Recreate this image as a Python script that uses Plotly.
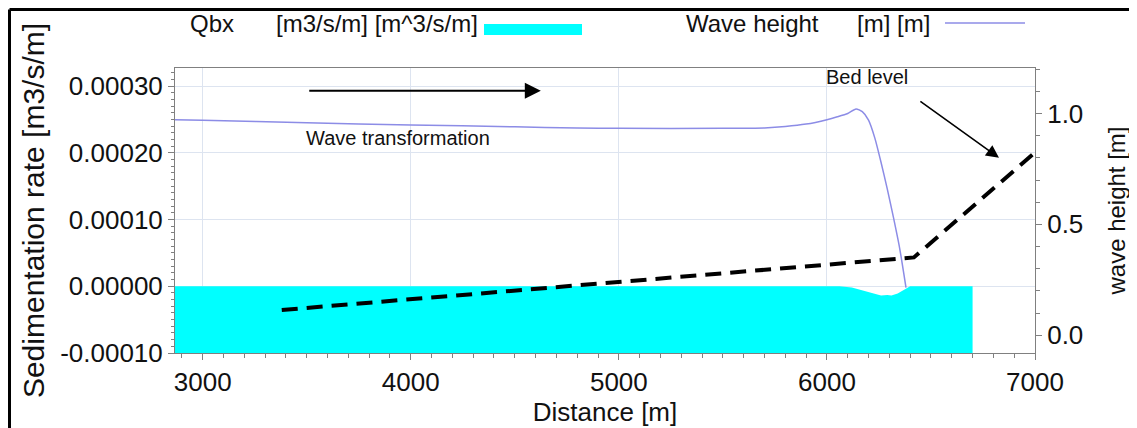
import plotly.graph_objects as go

# ---------------- data ----------------
x_range = [2867, 7000]
left_range = [-0.0001, 0.000327]
right_range = [-0.08, 1.205]

# Qbx (sedimentation rate, m3/s/m) - filled area down to the axis bottom
qbx_dist = [2867, 3000, 4000, 5000, 6000, 6060, 6120, 6170, 6220, 6260, 6290, 6310, 6340, 6370, 6400, 6500, 6600, 6700]
qbx_vals = [0, 0, 0, 0, 0, 0, -0.000002, -0.000006, -0.000011, -0.000014, -0.000013, -0.000014, -0.000011, -0.000006, 0, 0, 0, 0]
qbx_base = -0.0001

# Wave height [m]
wave_dist = [2867, 3000, 3500, 4000, 4500, 4800, 5000, 5500, 5700, 5800, 5900, 6000, 6050, 6100, 6140, 6170, 6200, 6230, 6260, 6290, 6320, 6350, 6380]
wave_vals = [0.972, 0.969, 0.958, 0.948, 0.940, 0.934, 0.933, 0.933, 0.935, 0.941, 0.952, 0.972, 0.985, 1.000, 1.020, 1.008, 0.970, 0.890, 0.780, 0.660, 0.530, 0.390, 0.215]

# Bed level (annotation sketch, right-axis units)
bed_dist = [3380, 6418, 7000]
bed_vals = [0.114, 0.351, 0.824]

# ticks
left_tickvals = [-0.0001, 0.0, 0.0001, 0.0002, 0.0003]
left_ticktext = ["-0.00010", "0.00000", "0.00010", "0.00020", "0.00030"]
right_tickvals = [0.0, 0.5, 1.0]
right_ticktext = ["0.0", "0.5", "1.0"]
x_tickvals = [3000, 4000, 5000, 6000, 7000]

FONT = "Arial, Liberation Sans, sans-serif"
GRID = "#dde4f0"
FRAME = "#808080"

# figure geometry (page has an 8px body margin)
W, H = 1129, 420
ML, MR, MT, MB = 167, 102, 60, 75
PW, PH = W - ML - MR, H - MT - MB

fig = go.Figure()

# baseline for the cyan fill
fig.add_trace(go.Scatter(x=[qbx_dist[0], qbx_dist[-1]], y=[qbx_base, qbx_base],
                         mode="lines", line=dict(width=0, color="#00ffff"),
                         showlegend=False, hoverinfo="skip"))
fig.add_trace(go.Scatter(x=qbx_dist, y=qbx_vals, mode="lines", fill="tonexty",
                         fillcolor="#00ffff", line=dict(width=0, color="#00ffff"),
                         name="Qbx", showlegend=False))

fig.add_trace(go.Scatter(x=wave_dist, y=wave_vals, yaxis="y2", mode="lines",
                         line=dict(color="#8c8ce6", width=1.5, shape="spline", smoothing=0.6),
                         name="Wave height", showlegend=False))

fig.add_trace(go.Scatter(x=bed_dist, y=bed_vals, yaxis="y2", mode="lines",
                         line=dict(color="black", width=4, dash="16px,9px"),
                         name="Bed level", showlegend=False))

axis_common = dict(showline=True, linecolor=FRAME, linewidth=1, ticks="outside",
                   tickcolor=FRAME, ticklen=6, tickfont=dict(family=FONT, size=26, color="#111"),
                   zeroline=False, automargin=False)

fig.update_layout(
    width=W, height=H,
    margin=dict(l=ML, r=MR, t=MT, b=MB, autoexpand=False),
    paper_bgcolor="white", plot_bgcolor="white",
    showlegend=False,
    font=dict(family=FONT, color="#111"),
    xaxis=dict(range=x_range, tickvals=x_tickvals, showgrid=True, gridcolor=GRID,
               mirror=True,
               minor=dict(dtick=100, ticklen=4, tickcolor=FRAME, ticks="outside", showgrid=False),
               title=dict(text="Distance [m]", font=dict(family=FONT, size=26, color="#111"), standoff=2),
               **axis_common),
    yaxis=dict(range=left_range, tickvals=left_tickvals, ticktext=left_ticktext,
               showgrid=True, gridcolor=GRID, mirror=True,
               minor=dict(dtick=0.00001, ticklen=3, tickcolor=FRAME, ticks="outside", showgrid=False),
               title=dict(text="Sedimentation rate [m3/s/m]", font=dict(family=FONT, size=30, color="#111"), standoff=6),
               **axis_common),
    yaxis2=dict(range=right_range, tickvals=right_tickvals, ticktext=right_ticktext,
                overlaying="y", side="right", showgrid=False,
                minor=dict(dtick=0.1, ticklen=4, tickcolor=FRAME, ticks="outside", showgrid=False),
                title=dict(text="wave height [m]", font=dict(family=FONT, size=24, color="#111"), standoff=25),
                **axis_common),
)

ann = []
# arrows
ann.append(dict(x=4625, y=0.000293, ax=3505, ay=0.000293, xref="x", yref="y", axref="x", ayref="y",
                showarrow=True, arrowhead=2, arrowsize=1.6, arrowwidth=2, arrowcolor="black", text="",
                standoff=0, startstandoff=0))
ann.append(dict(x=6827, y=0.80, ax=6442, ay=1.059, xref="x", yref="y2", axref="x", ayref="y2",
                showarrow=True, arrowhead=2, arrowsize=1.6, arrowwidth=1.6, arrowcolor="black", text=""))
# text labels
ann.append(dict(x=3939, y=0.000222, xref="x", yref="y", text="Wave transformation", showarrow=False,
                font=dict(family=FONT, size=20, color="#111")))
ann.append(dict(x=6192, y=0.000313, xref="x", yref="y", text="Bed level", showarrow=False,
                font=dict(family=FONT, size=20, color="#111")))

# helpers: page pixel -> paper coordinate
def px2xp(px):
    return (px - 8 - ML) / PW

def py2yp(py):
    return (MT + PH - (py - 8)) / PH

leg_font = dict(family=FONT, size=24, color="#111")
ann.append(dict(x=px2xp(188), y=py2yp(24), xref="paper", yref="paper", xanchor="left", yanchor="middle",
                text="Qbx", showarrow=False, font=leg_font))
ann.append(dict(x=px2xp(274), y=py2yp(24), xref="paper", yref="paper", xanchor="left", yanchor="middle",
                text="[m3/s/m] [m^3/s/m]", showarrow=False, font=leg_font))
ann.append(dict(x=px2xp(684), y=py2yp(24), xref="paper", yref="paper", xanchor="left", yanchor="middle",
                text="Wave height", showarrow=False, font=leg_font))
ann.append(dict(x=px2xp(855), y=py2yp(24), xref="paper", yref="paper", xanchor="left", yanchor="middle",
                text="[m] [m]", showarrow=False, font=leg_font))
fig.update_layout(annotations=ann)

shapes = [
    dict(type="rect", xref="paper", yref="paper", x0=px2xp(484), x1=px2xp(582), y0=py2yp(35), y1=py2yp(24),
         fillcolor="#00ffff", line=dict(width=0)),
    dict(type="line", xref="paper", yref="paper", x0=px2xp(945), x1=px2xp(1025), y0=py2yp(23), y1=py2yp(23),
         line=dict(color="#8c8ce6", width=1.5)),
    # outer frame (left and top edges of the screenshot)
    dict(type="line", xref="paper", yref="paper", x0=px2xp(9.5), x1=px2xp(9.5), y0=py2yp(9.5), y1=py2yp(440),
         line=dict(color="black", width=3)),
    dict(type="line", xref="paper", yref="paper", x0=px2xp(9.5), x1=px2xp(1150), y0=py2yp(9.5), y1=py2yp(9.5),
         line=dict(color="black", width=3)),
]
fig.update_layout(shapes=shapes)

fig.write_html("out.html")
